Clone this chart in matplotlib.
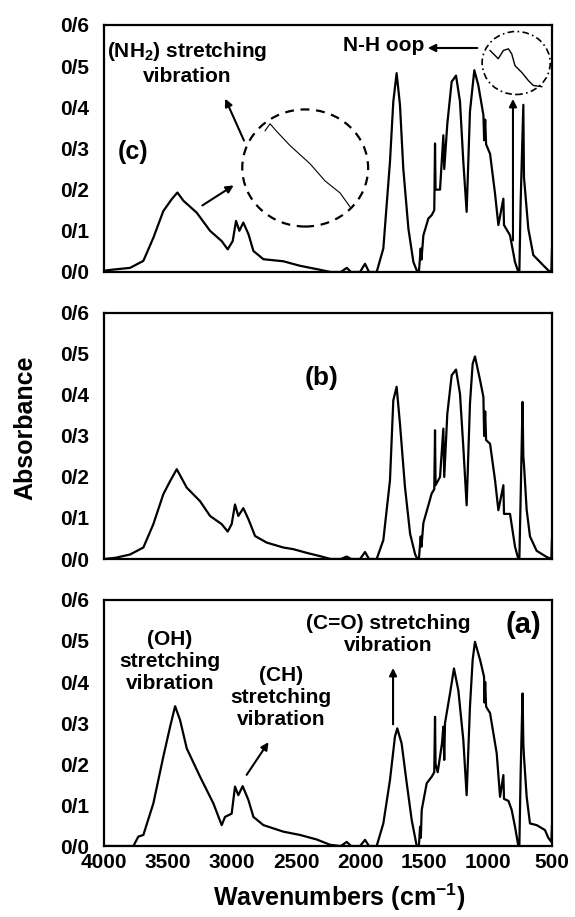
import numpy as np
import matplotlib.pyplot as plt
from matplotlib.patches import Ellipse

plt.rcParams['font.family'] = ['Liberation Sans', 'DejaVu Sans']
plt.rcParams['font.weight'] = 'bold'
plt.rcParams['mathtext.fontset'] = 'custom'
plt.rcParams['mathtext.rm'] = 'Liberation Sans'
plt.rcParams['mathtext.bf'] = 'Liberation Sans:bold'
plt.rcParams['mathtext.default'] = 'bf'

# widma FTIR (liczba falowa, absorbancja)
wn_a = [4000, 3771, 3732, 3693, 3615, 3537, 3484, 3445, 3406, 3354, 3250, 3146,
        3081, 3055, 3003, 2977, 2951, 2917, 2872, 2833, 2755, 2599, 2469, 2339,
        2234, 2150, 2104, 2070, 2000, 1961, 1930, 1870, 1818, 1766, 1727, 1709,
        1675, 1635, 1596, 1557, 1540, 1531, 1525, 1518, 1479, 1440, 1420, 1414,
        1410, 1393, 1360, 1349, 1342, 1336, 1297, 1266, 1232, 1193, 1167, 1141,
        1120, 1102, 1062, 1031, 1028, 1022, 1015, 984, 932, 906, 880, 875, 840,
        815, 789, 763, 755, 745, 730, 724, 719, 698, 672, 620, 555, 529, 505, 500]
abs_a = [0.0, 0.0, 0.023, 0.027, 0.104, 0.218, 0.291, 0.341, 0.307, 0.238, 0.169, 0.104,
         0.051, 0.071, 0.079, 0.145, 0.124, 0.146, 0.112, 0.071, 0.051, 0.035, 0.027, 0.016,
         0.003, 0.0, 0.010, 0.0, 0.0, 0.015, 0.0, 0.0, 0.055, 0.161, 0.267, 0.287,
         0.250, 0.153, 0.063, 0.0, 0.0, 0.047, 0.020, 0.088, 0.153, 0.169, 0.180, 0.315,
         0.200, 0.180, 0.250, 0.291, 0.210, 0.300, 0.372, 0.433, 0.380, 0.259, 0.124, 0.340,
         0.454, 0.498, 0.454, 0.413, 0.350, 0.400, 0.340, 0.324, 0.226, 0.120, 0.173, 0.115, 0.110,
         0.088, 0.047, 0.0, 0.0, 0.178, 0.372, 0.250, 0.218, 0.120, 0.055, 0.051, 0.039, 0.020, 0.010, 0.050]

wn_b = [4000, 3911, 3797, 3693, 3615, 3537, 3484, 3432, 3354, 3250, 3172, 3081,
        3034, 3003, 2977, 2951, 2912, 2872, 2820, 2729, 2599, 2521, 2417, 2313,
        2230, 2150, 2104, 2070, 2000, 1961, 1930, 1870, 1818, 1766, 1740, 1714,
        1688, 1649, 1609, 1570, 1552, 1540, 1526, 1520, 1505, 1466, 1440, 1420,
        1414, 1410, 1375, 1349, 1342, 1318, 1284, 1250, 1219, 1193, 1167, 1141,
        1120, 1102, 1062, 1036, 1030, 1022, 1015, 984, 945, 919, 880, 875, 828,
        789, 763, 755, 745, 730, 724, 719, 698, 672, 620, 542, 505, 500]
abs_b = [0.0, 0.003, 0.011, 0.028, 0.085, 0.158, 0.190, 0.219, 0.174, 0.141, 0.105, 0.085,
         0.067, 0.085, 0.133, 0.105, 0.124, 0.097, 0.056, 0.040, 0.028, 0.024, 0.015, 0.007,
         0.0, 0.0, 0.006, 0.0, 0.0, 0.017, 0.0, 0.0, 0.046, 0.192, 0.387, 0.420,
         0.330, 0.176, 0.062, 0.012, 0.0, 0.0, 0.055, 0.030, 0.088, 0.131, 0.160, 0.170,
         0.314, 0.180, 0.200, 0.318, 0.200, 0.354, 0.448, 0.462, 0.403, 0.273, 0.131, 0.379,
         0.476, 0.494, 0.436, 0.395, 0.300, 0.360, 0.290, 0.281, 0.192, 0.119, 0.180, 0.110, 0.110,
         0.030, 0.0, 0.0, 0.150, 0.383, 0.250, 0.230, 0.120, 0.055, 0.020, 0.005, 0.0, 0.050]

wn_c = [4000, 3953, 3797, 3693, 3615, 3537, 3471, 3427, 3380, 3276, 3172, 3081,
        3034, 2995, 2969, 2943, 2912, 2872, 2833, 2755, 2599, 2469, 2339, 2230,
        2150, 2104, 2070, 2000, 1961, 1930, 1870, 1818, 1766, 1740, 1714, 1688,
        1662, 1622, 1583, 1552, 1540, 1526, 1520, 1505, 1466, 1440, 1420, 1414,
        1410, 1375, 1349, 1342, 1318, 1284, 1250, 1219, 1193, 1167, 1141, 1107,
        1076, 1036, 1030, 1022, 1015, 984, 945, 919, 880, 875, 828, 789, 763,
        755, 745, 724, 719, 685, 646, 568, 529, 505, 500]
abs_c = [0.003, 0.005, 0.010, 0.027, 0.083, 0.148, 0.177, 0.193, 0.173, 0.144, 0.100, 0.075,
         0.055, 0.075, 0.124, 0.100, 0.120, 0.092, 0.051, 0.031, 0.026, 0.015, 0.007, 0.0,
         0.0, 0.010, 0.0, 0.0, 0.020, 0.0, 0.0, 0.057, 0.268, 0.414, 0.483, 0.406,
         0.251, 0.105, 0.024, 0.0, 0.0, 0.057, 0.030, 0.089, 0.130, 0.138, 0.150, 0.312,
         0.200, 0.200, 0.332, 0.250, 0.360, 0.462, 0.477, 0.414, 0.268, 0.146, 0.390, 0.490,
         0.454, 0.381, 0.320, 0.370, 0.310, 0.287, 0.190, 0.114, 0.178, 0.114, 0.089, 0.024, 0.0,
         0.0, 0.170, 0.406, 0.230, 0.105, 0.041, 0.016, 0.004, 0.0, 0.057]

# powiekszone fragmenty w kolkach (panel c)
wn_nh2_zoom = [2742, 2703, 2656, 2547, 2391, 2273, 2156, 2094, 2078]
abs_nh2_zoom = [0.343, 0.360, 0.343, 0.307, 0.263, 0.221, 0.192, 0.165, 0.158]
wn_nh_zoom = [984, 920, 880, 841, 815, 789, 737, 685, 646, 580]
abs_nh_zoom = [0.538, 0.518, 0.538, 0.542, 0.530, 0.501, 0.485, 0.465, 0.453, 0.450]

y_ticks = [0.0, 0.1, 0.2, 0.3, 0.4, 0.5, 0.6]
y_labels = ['0/0', '0/1', '0/2', '0/3', '0/4', '0/5', '0/6']
x_ticks = [4000, 3500, 3000, 2500, 2000, 1500, 1000, 500]

fig = plt.figure(figsize=(5.75, 9.17), dpi=100)
ax_c = fig.add_axes([0.181, 0.7034, 0.779, 0.2694])
ax_b = fig.add_axes([0.181, 0.3904, 0.779, 0.2683])
ax_a = fig.add_axes([0.181, 0.0774, 0.779, 0.2683])

for ax, wn, ab in [(ax_c, wn_c, abs_c), (ax_b, wn_b, abs_b), (ax_a, wn_a, abs_a)]:
    ax.plot(wn, ab, c='black', lw=1.6)
    ax.set_xlim(4000, 500)
    ax.set_ylim(0, 0.6)
    ax.set_yticks(y_ticks)
    ax.set_yticklabels(y_labels, fontsize=15, fontweight='bold')
    ax.set_xticks(x_ticks)
    ax.tick_params(axis='y', length=0, pad=11)
    ax.tick_params(axis='x', length=0, pad=5)
    for s in ax.spines.values():
        s.set_linewidth(1.6)

ax_c.set_xticklabels([])
ax_b.set_xticklabels([])
ax_a.set_xticklabels([str(v) for v in x_ticks], fontsize=15, fontweight='bold')

arrow = dict(arrowstyle='-|>', color='black', lw=1.5, mutation_scale=11)
txt = dict(fontsize=15, fontweight='bold', ha='center', va='center')

# panel (c)
ax_c.text(3773, 0.291, '(c)', fontsize=18, fontweight='bold', ha='center', va='center')
ax_c.text(3352, 0.508, '(NH$_2$) stretching\nvibration', linespacing=1.25, **txt)
ax_c.annotate('', xy=(3062, 0.427), xytext=(2898, 0.313), arrowprops=arrow)
ax_c.annotate('', xy=(2969, 0.214), xytext=(3250, 0.158), arrowprops=arrow)
ax_c.add_patch(Ellipse((0.449, 0.421), 0.281, 0.474, transform=ax_c.transAxes,
                       fill=False, ls=(0, (4, 3)), lw=1.6, color='black'))
ax_c.plot(wn_nh2_zoom, abs_nh2_zoom, c='black', lw=0.8)
ax_c.text(1816, 0.551, 'N-H oop', **txt)
ax_c.annotate('', xy=(1492, 0.544), xytext=(1062, 0.544), arrowprops=arrow)
ax_c.add_patch(Ellipse((0.92, 0.846), 0.152, 0.255, transform=ax_c.transAxes,
                       fill=False, ls=(0, (4, 2, 1, 2)), lw=1.2, color='black'))
ax_c.plot(wn_nh_zoom, abs_nh_zoom, c='black', lw=1.0)
ax_c.annotate('', xy=(805, 0.427), xytext=(805, 0.07), arrowprops=arrow)

# panel (b)
ax_b.text(2297, 0.441, '(b)', fontsize=19, fontweight='bold', ha='center', va='center')

# panel (a)
ax_a.text(3484, 0.451, '(OH)\nstretching\nvibration', linespacing=1.2, **txt)
ax_a.text(2617, 0.363, '(CH)\nstretching\nvibration', linespacing=1.2, **txt)
ax_a.annotate('', xy=(2703, 0.259), xytext=(2898, 0.168), arrowprops=arrow)
ax_a.text(1781, 0.515, '(C=O) stretching\nvibration', linespacing=1.2, **txt)
ax_a.annotate('', xy=(1742, 0.441), xytext=(1742, 0.29), arrowprops=arrow)
ax_a.text(727, 0.539, '(a)', fontsize=21, fontweight='bold', ha='center', va='center')

fig.text(0.0435, 0.533, 'Absorbance', rotation=90, fontsize=18, fontweight='bold',
         ha='center', va='center')
fig.text(0.59, 0.022, 'Wavenumbers (cm$^{-1}$)', fontsize=18, fontweight='bold',
         ha='center', va='center')

plt.savefig('out.png', dpi=100)
